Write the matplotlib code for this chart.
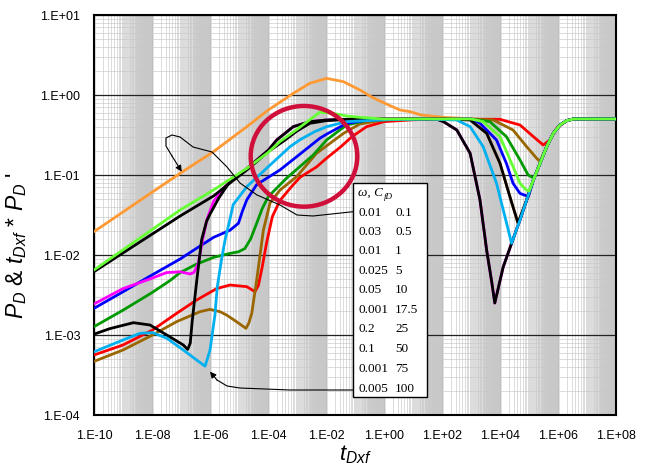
import numpy as np
import matplotlib
matplotlib.use('Agg')
import matplotlib.pyplot as plt
from matplotlib.ticker import FixedLocator, LogLocator, FuncFormatter, NullFormatter
from matplotlib.patches import Ellipse, Rectangle

plt.rcParams['font.family'] = ['Liberation Sans', 'DejaVu Sans']
plt.rcParams['mathtext.fontset'] = 'custom'
plt.rcParams['mathtext.rm'] = 'Liberation Sans'
plt.rcParams['mathtext.it'] = 'Liberation Sans:italic'

# values, stored as log10(t_Dxf) and log10(P)
rise_t = [4.40, 4.55, 4.69, 4.92, 5.15, 5.38, 5.61, 5.84, 6.07, 6.30, 6.53, 8.0]
rise_p = [-1.854, -1.70, -1.5625, -1.3125, -1.0625, -0.854, -0.646, -0.479, -0.375, -0.321, -0.30, -0.30]

orange_t = [-10, -9, -8, -7.03, -6.5, -5.88, -5.3, -4.73, -3.99, -3.5, -3.13, -2.56, -1.98, -1.40,
            -0.83, -0.4, 0.03, 0.55, 0.90, 1.28, 2.02, 2.62, 3.0, 3.54, 4.0, 4.34, 4.62] + rise_t[3:]
orange_p = [-1.708, -1.462, -1.216, -0.979, -0.854, -0.708, -0.551, -0.396, -0.1875, -0.069, 0.02, 0.146,
            0.208, 0.167, 0.0625, -0.03, -0.104, -0.1875, -0.208, -0.25, -0.279, -0.29, -0.31, -0.479,
            -0.854, -1.27, -1.60] + rise_p[3:]

lgreen_t = [-10, -9, -8, -7.03, -5.88, -4.73, -4.0, -3.59, -3.0, -2.6, -2.21, -1.75, -1.29, -0.83, 0.0,
            3.0, 3.42, 4.0, 4.45, 4.69, 4.88, 5.0] + rise_t[4:]
lgreen_p = [-2.1875, -1.935, -1.683, -1.4375, -1.1875, -0.917, -0.72, -0.583, -0.43, -0.32, -0.215,
            -0.229, -0.2625, -0.279, -0.30, -0.30, -0.333, -0.52, -0.896, -1.104, -1.18, -1.20] + rise_p[4:]

black1_t = [-10, -9, -8, -7.03, -5.88, -5.31, -4.73, -3.99, -3.41, -3.0, -2.56, -1.98, -1.0, 2.0,
            2.97, 3.54, 4.0, 4.34, 4.62] + rise_t[3:]
black1_p = [-2.208, -1.974, -1.74, -1.5125, -1.2625, -1.10, -0.9375, -0.708, -0.5625, -0.45, -0.354,
            -0.32, -0.30, -0.30, -0.3125, -0.479, -0.854, -1.27, -1.60] + rise_p[3:]

blue_t = [-10, -9, -8.3, -8, -7.03, -6.5, -5.88, -5.31, -5.02, -4.88, -4.73, -4.39, -3.59, -3.01, -2.21,
          -1.98, -1.29, -0.5, 3.0, 3.31, 3.88, 4.22, 4.45, 4.69, 4.98] + rise_t[4:]
blue_p = [-2.667, -2.46, -2.3125, -2.25, -2.05, -1.925, -1.78, -1.69, -1.604, -1.45, -1.31, -1.12,
          -0.9375, -0.771, -0.54, -0.49, -0.354, -0.31, -0.30, -0.354, -0.5625, -0.854, -1.104, -1.23,
          -1.27] + rise_p[4:]

green_t = [-10, -9, -8, -7.38, -7.03, -6.5, -5.88, -5.31, -5.02, -4.8, -4.6, -4.39, -4.2, -3.99, -3.36,
           -2.44, -1.98, -1.29, -0.5, 3.0, 3.65, 4.22, 4.69, 4.97, 5.17] + rise_t[5:]
green_p = [-2.896, -2.69, -2.47, -2.32, -2.22, -2.12, -2.03, -1.98, -1.96, -1.92, -1.80, -1.604, -1.42,
           -1.27, -1.04, -0.75, -0.5625, -0.375, -0.31, -0.30, -0.333, -0.52, -0.8125, -1.0, -1.04] + rise_p[5:]

magenta_t = [-10, -9, -8.07, -7.5, -7.03, -6.69, -6.56, -6.50, -6.40, -6.25, -6.10, -5.88, -5.5, -5.31,
             -4.73, -3.99, -3.70, -3.13, -2.56, -1.98, -1.0, 1.8, 2.05, 2.51, 2.97, 3.31, 3.54, 3.72,
             3.82, 4.11] + rise_t
magenta_p = [-2.6125, -2.42, -2.30, -2.22, -2.21, -2.237, -2.22, -2.18, -2.10, -1.80, -1.55, -1.33,
             -1.15, -1.08, -0.92, -0.69, -0.5625, -0.396, -0.333, -0.3125, -0.30, -0.30, -0.333,
             -0.4375, -0.729, -1.3125, -1.94, -2.35, -2.60, -2.15] + rise_p

black2_t = [-10, -9.45, -8.64, -8.07, -7.49, -6.92, -6.77, -6.68, -6.62, -6.55, -6.45, -6.29, -6.12,
            -6.0, -5.7, -5.31, -4.73, -3.99, -3.70, -3.13, -2.56, -1.98, -1.0, 1.8, 2.05, 2.51, 2.97,
            3.31, 3.54, 3.72, 3.82, 4.11] + rise_t
black2_p = [-2.99, -2.92, -2.846, -2.875, -3.0, -3.125, -3.18, -3.10, -2.85, -2.62, -2.30, -1.81, -1.58,
            -1.49, -1.29, -1.08, -0.92, -0.69, -0.5625, -0.396, -0.333, -0.3125, -0.30, -0.30, -0.333,
            -0.4375, -0.729, -1.3125, -1.94, -2.35, -2.60, -2.15] + rise_p

red_t = [-10, -9, -7.98, -7.15, -6.46, -5.77, -5.31, -4.73, -4.45, -4.33, -4.2, -4.05, -3.85, -3.59,
         -3.2, -2.9, -2.33, -1.98, -1.5, -1.1, -0.6, 0.0, 1.0, 2.0, 4.0, 4.69, 5.15, 5.49, 5.72, 5.95,
         6.30, 6.53, 8.0]
red_p = [-3.25, -3.125, -2.9375, -2.729, -2.5625, -2.42, -2.375, -2.396, -2.458, -2.38, -2.15, -1.85,
         -1.52, -1.32, -1.15, -1.03, -0.90, -0.79, -0.65, -0.52, -0.396, -0.333, -0.31, -0.30, -0.304,
         -0.375, -0.52, -0.625, -0.5625, -0.417, -0.321, -0.30, -0.30]

brown_t = [-10, -9, -7.98, -7.15, -6.34, -6.0, -5.66, -5.43, -5.1, -4.76, -4.66, -4.56, -4.39, -4.16,
           -3.93, -3.59, -3.01, -2.33, -1.40, -0.83, 0.0, 1.0, 3.0, 3.77, 4.45, 4.92, 5.26, 5.38] + rise_t[6:]
brown_p = [-3.33, -3.1875, -3.0, -2.833, -2.708, -2.68, -2.708, -2.75, -2.83, -2.917, -2.85, -2.729,
           -2.3125, -1.69, -1.35, -1.19, -1.02, -0.73, -0.48, -0.362, -0.31, -0.30, -0.30, -0.3125,
           -0.4375, -0.646, -0.79, -0.83] + rise_p[6:]

cyan_t = [-10, -9.0, -8.41, -7.98, -7.49, -6.92, -6.46, -6.17, -6.0, -5.83, -5.75, -5.6, -5.48, -5.31,
          -5.20, -4.73, -3.99, -3.24, -2.90, -2.4, -1.98, -1.29, 0.0, 1.5, 2.51, 2.97, 3.42, 3.88, 4.17] + rise_t
cyan_p = [-3.21, -3.0625, -2.979, -2.97, -3.04, -3.1875, -3.3125, -3.39, -3.19, -2.75, -2.40, -2.05,
          -1.81, -1.55, -1.37, -1.146, -0.896, -0.646, -0.56, -0.46, -0.396, -0.333, -0.31, -0.30,
          -0.3125, -0.396, -0.646, -1.104, -1.52] + rise_p

# legend table (omega, C_fD)
omega = ['0.01', '0.03', '0.01', '0.025', '0.05', '0.001', '0.2', '0.1', '0.001', '0.005']
cfd = ['0.1', '0.5', '1', '5', '10', '17.5', '25', '50', '75', '100']

# drawing order: (t, p, colour)
curves = [
    (orange_t, orange_p, '#FF9933'),
    (red_t, red_p, '#FF0000'),
    (brown_t, brown_p, '#996600'),
    (green_t, green_p, '#009900'),
    (blue_t, blue_p, '#0000FF'),
    (magenta_t, magenta_p, '#FF00FF'),
    (black2_t, black2_p, '#000000'),
    (black1_t, black1_p, '#000000'),
    (cyan_t, cyan_p, '#00B0F0'),
    (lgreen_t, lgreen_p, '#66FF33'),
]

fig = plt.figure(figsize=(6.48, 4.72), dpi=100)
ax = fig.add_axes([94 / 648, 1 - 415 / 472, 522 / 648, 400 / 472])

for t, p, c in curves:
    ax.plot(10.0 ** np.array(t), 10.0 ** np.array(p), color=c, lw=2.0,
            solid_joinstyle='round', solid_capstyle='round', zorder=3)

ax.set_xscale('log')
ax.set_yscale('log')
ax.set_xlim(1e-10, 1e8)
ax.set_ylim(1e-4, 1e1)

# Excel style grid: x major every 2 decades, dense minors
ax.xaxis.set_major_locator(FixedLocator([100.0 ** k for k in range(-5, 5)]))
ax.xaxis.set_minor_locator(FixedLocator([n * 100.0 ** k for k in range(-5, 4) for n in range(2, 100)]))
ax.yaxis.set_major_locator(FixedLocator([10.0 ** k for k in range(-4, 2)]))
ax.yaxis.set_minor_locator(LogLocator(base=10, subs=np.arange(2, 10), numticks=50))
ax.xaxis.set_minor_formatter(NullFormatter())
ax.yaxis.set_minor_formatter(NullFormatter())

fmt = FuncFormatter(lambda v, pos: f"1.E{int(round(np.log10(v))):+03d}")
ax.xaxis.set_major_formatter(fmt)
ax.yaxis.set_major_formatter(fmt)

ax.grid(which='minor', color='#c8c8c8', lw=0.45)
ax.grid(which='major', color='#222222', lw=0.9)
ax.set_axisbelow(True)
ax.tick_params(which='both', length=0)
ax.tick_params(axis='x', pad=11, labelsize=9)
ax.tick_params(axis='y', pad=10, labelsize=9)
for s in ax.spines.values():
    s.set_linewidth(1.5)
    s.set_color('black')

ax.set_xlabel(r'$t_{Dxf}$', fontsize=16)
ax.xaxis.set_label_coords(0.5, -0.07)
ax.set_ylabel(r"$P_D$ & $t_{Dxf}$ * $P_D$ '", fontsize=16.5)
ax.yaxis.set_label_coords(-0.125, 0.425)

# highlight circle
ax.add_patch(Ellipse((0.4023, 0.6467), 0.2042, 0.2517, transform=ax.transAxes,
                     fill=False, edgecolor='#D0103A', lw=3.2, zorder=5))

# leader lines from the table to the curves
lead1_x = [0.4967, 0.4195, 0.3889, 0.3563, 0.3123, 0.2797, 0.2548, 0.2261, 0.1897, 0.1648, 0.1494,
           0.1379, 0.1379, 0.1494, 0.1680]
lead1_y = [0.5083, 0.4975, 0.5, 0.525, 0.55, 0.58, 0.62, 0.6575, 0.67, 0.695, 0.70, 0.6925, 0.6725,
           0.6475, 0.6083]
lead2_x = [0.5, 0.3755, 0.2797, 0.2548, 0.2356, 0.2222]
lead2_y = [0.0625, 0.0625, 0.0675, 0.0725, 0.0875, 0.1083]
for lx, ly in [(lead1_x, lead1_y), (lead2_x, lead2_y)]:
    ax.plot(lx[:-1], ly[:-1], transform=ax.transAxes, color='black', lw=0.8, zorder=6)
    ax.annotate('', xy=(lx[-1], ly[-1]), xytext=(lx[-2], ly[-2]), xycoords='axes fraction',
                arrowprops=dict(arrowstyle='-|>', color='black', lw=0.8, mutation_scale=9,
                                shrinkA=0, shrinkB=0), zorder=6)

# table box
ax.add_patch(Rectangle((0.497, 0.0458), 0.141, 0.5352, transform=ax.transAxes,
                       facecolor='white', edgecolor='black', lw=1.0, zorder=7))
serif = ['Liberation Serif', 'DejaVu Serif']
hdr = ax.text(0.506, 0.556, 'ω, C', transform=ax.transAxes, family=serif, style='italic',
              fontsize=9.5, va='center', ha='left', zorder=8)
ax.annotate('fD', xy=(1.03, 0.15), xycoords=hdr, family=serif, style='italic', fontsize=6.5,
            va='center', ha='left', zorder=8)
row_y = [0.5058, 0.4575, 0.4093, 0.3608, 0.3125, 0.2625, 0.2143, 0.1643, 0.1143, 0.0658]
for yy, w, c in zip(row_y, omega, cfd):
    ax.text(0.506, yy, w, transform=ax.transAxes, family=serif, fontsize=9.5, va='center', zorder=8)
    ax.text(0.577, yy, c, transform=ax.transAxes, family=serif, fontsize=9.5, va='center', zorder=8)

fig.savefig('out.png', dpi=100)
